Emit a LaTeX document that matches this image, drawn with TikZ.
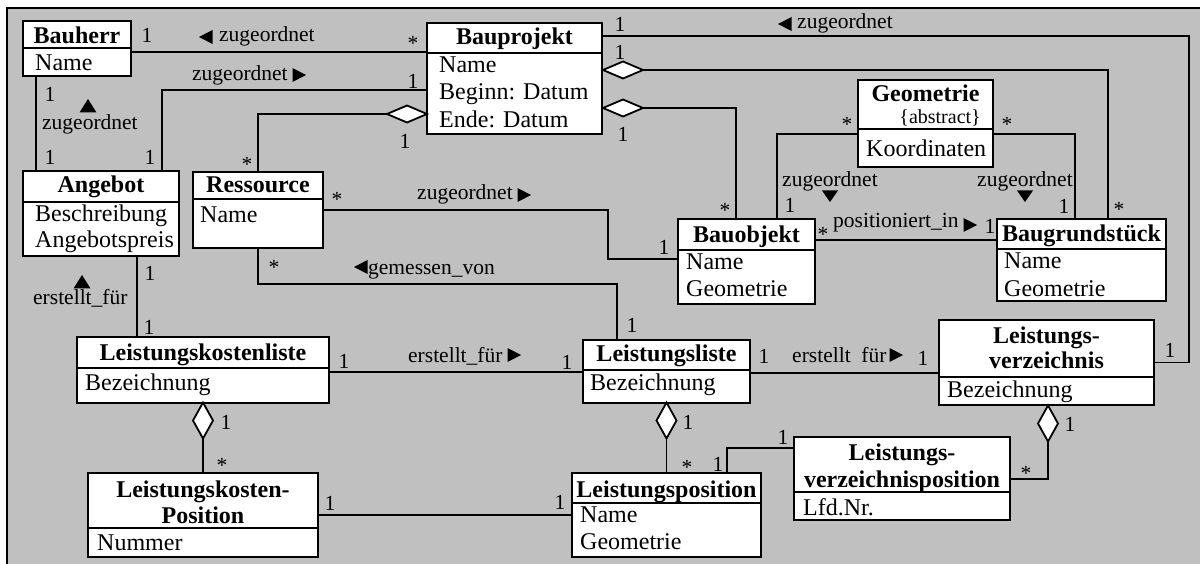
\documentclass[tikz,border=0pt]{standalone}
\usepackage{fontspec}
\setmainfont{Liberation Serif}
\definecolor{panel}{HTML}{C0C0C0}
% class box: name, x1, y1, x2, y2, y of the header divider
\newcommand\classbox[6]{%
  \node[box, minimum width={(#4)-(#2)}, minimum height={(#5)-(#3)}] (#1) at (#2,#3) {};
  \draw[line width=2.2pt] (#1.west |- 0,#6) -- (#1.east |- 0,#6);}
% aggregation diamonds (centre x, centre y)
\newcommand\hdiam[2]{\draw[agg] (#1-20,#2) -- (#1,#2-8.5) -- (#1+20,#2) -- (#1,#2+8.5) -- cycle;}
\newcommand\vdiam[2]{\draw[agg] (#1,#2-18) -- (#1+10,#2) -- (#1,#2+18) -- (#1-10,#2) -- cycle;}
% reading-direction triangles (centre x, centre y)
\newcommand\triR[2]{\fill (#1-6.5,#2-7) -- (#1+7,#2) -- (#1-6.5,#2+7) -- cycle;}
\newcommand\triL[2]{\fill (#1+6.5,#2-7) -- (#1-7,#2) -- (#1+6.5,#2+7) -- cycle;}
\newcommand\triU[2]{\fill (#1-8.5,#2+6.5) -- (#1,#2-7) -- (#1+8.5,#2+6.5) -- cycle;}
\newcommand\triD[2]{\fill (#1-8,#2-5.5) -- (#1,#2+6) -- (#1+8,#2-5.5) -- cycle;}
\begin{document}
\begin{tikzpicture}[x=1pt,y=-1pt,
  box/.style={draw, fill=white, line width=2.2pt, inner sep=0pt, outer sep=0pt, anchor=north west},
  conn/.style={line width=1.8pt},
  agg/.style={draw, fill=white, line width=1.8pt, line join=miter},
  ttl/.style={font=\fontsize{24}{28}\selectfont\bfseries, anchor=base, inner sep=0pt},
  attr/.style={font=\fontsize{24}{28}\selectfont, anchor=base west, inner sep=0pt},
  lbl/.style={font=\fontsize{21.5}{25}\selectfont, anchor=base west, inner sep=0pt},
  one/.style={font=\fontsize{21.5}{25}\selectfont, inner sep=0pt},
  many/.style={font=\fontsize{21.5}{25}\selectfont, inner sep=0pt, yshift=-3pt},
]
\useasboundingbox (0,0) rectangle (1200,564);
\fill[white] (0,0) rectangle (1200,564);
\fill[panel] (7,8) rectangle (1200,564);
\draw[line width=2.5pt] (7,564) -- (7,8) -- (1200,8);

% ---------- classes ----------
\classbox{bauherr}{23}{21}{131}{76}{48}
\classbox{bauprojekt}{427}{23}{602}{134}{53}
\classbox{angebot}{23}{171}{179}{256}{202}
\classbox{ressource}{193}{172}{323}{248}{199}
\classbox{geometrie}{858}{80}{993}{167}{129}
\classbox{bauobjekt}{678}{219}{815}{304}{250}
\classbox{baugrund}{997}{219}{1166}{301}{249}
\classbox{lv}{939}{320}{1154}{405}{377}
\classbox{lkl}{77}{337}{329}{403}{368}
\classbox{ll}{583}{340}{750}{403}{370}
\classbox{lkp}{88}{473}{318}{557}{528}
\classbox{lp}{572}{473}{761}{557}{503}
\classbox{lvp}{794}{437}{1010}{520}{492}

% ---------- class texts ----------
\node[ttl] (t1) at (77,44) {Bauherr};
\node[attr] (a1) at (35,71) {Name};
\node[ttl] (t2) at (514.5,45) {Bauprojekt};
\node[attr] (a2) at (439,73) {Name};
\node[attr] (a3) at (439,100) {Beginn: Datum};
\node[attr] (a4) at (439,128) {Ende: Datum};
\node[ttl] (t3) at (101,193) {Angebot};
\node[attr] (a5) at (35,222) {Beschreibung};
\node[attr] (a6) at (35,248) {Angebotspreis};
\node[ttl] (t4) at (258,193) {Ressource};
\node[attr] (a7) at (200,223) {Name};
\node[ttl] (t5) at (925.5,102) {Geometrie};
\node[font=\fontsize{20}{24}\selectfont, anchor=base east, inner sep=0pt] (t5b) at (981,124) {\{abstract\}};
\node[attr] (a8) at (866,157) {Koordinaten};
\node[ttl] (t6) at (746.5,243) {Bauobjekt};
\node[attr] (a9) at (686,270) {Name};
\node[attr] (a10) at (686,297) {Geometrie};
\node[ttl] (t7) at (1081.5,242) {Baugrundstück};
\node[attr] (a11) at (1004,269) {Name};
\node[attr] (a12) at (1004,297) {Geometrie};
\node[ttl] (t8) at (1046.5,343) {Leistungs-};
\node[ttl] (t8b) at (1046.5,368) {verzeichnis};
\node[attr] (a13) at (947,397) {Bezeichnung};
\node[ttl] (t9) at (203,360) {Leistungskostenliste};
\node[attr] (a14) at (85,390) {Bezeichnung};
\node[ttl] (t10) at (666.5,361) {Leistungsliste};
\node[attr] (a15) at (590,390) {Bezeichnung};
\node[ttl] (t11) at (203,497) {Leistungskosten-};
\node[ttl] (t11b) at (203,523) {Position};
\node[attr] (a16) at (97,550) {Nummer};
\node[ttl] (t12) at (666.5,497) {Leistungsposition};
\node[attr] (a17) at (580,522) {Name};
\node[attr] (a18) at (580,549) {Geometrie};
\node[ttl] (t13) at (902,460) {Leistungs-};
\node[ttl] (t13b) at (902,487) {verzeichnisposition};
\node[attr] (a19) at (803,515) {Lfd.Nr.};

% ---------- associations ----------
\draw[conn] (bauherr.east |- 0,52) -- (bauprojekt.west |- 0,52);
\draw[conn] (bauprojekt.west |- 0,90) -| (162,0 |- angebot.north);
\draw[conn] (36,0 |- bauherr.south) -- (36,0 |- angebot.north);
\draw[conn] (bauprojekt.west |- 0,114) -| (ressource.north);
\draw[conn] (bauprojekt.east |- 0,36) -| (1189,0 |- lv.east) -- (lv.east);
\draw[conn] (bauprojekt.east |- 0,70) -| (1108,0 |- baugrund.north);
\draw[conn] (bauprojekt.east |- 0,108) -| (736,0 |- bauobjekt.north);
\draw[conn] (geometrie.west |- 0,134) -| (777,0 |- bauobjekt.north);
\draw[conn] (geometrie.east |- 0,134) -| (1075,0 |- baugrund.north);
\draw[conn] (bauobjekt.east |- 0,240) -- (baugrund.west |- 0,240);
\draw[conn] (ressource.east |- 0,210) -| (608,259) -- (bauobjekt.west |- 0,259);
\draw[conn] (ressource.south) |- (617,284) -- (617,0 |- ll.north);
\draw[conn] (137,0 |- angebot.south) -- (137,0 |- lkl.north);
\draw[conn] (lkl.east |- 0,372) -- (ll.west |- 0,372);
\draw[conn] (ll.east |- 0,373) -- (lv.west |- 0,373);
\draw[conn] (lkl.south) -- (lkp.north);
\draw[conn] (ll.south) -- (lp.north);
\draw[conn] (lkp.east |- 0,515) -- (lp.west |- 0,515);
\draw[conn] (727,0 |- lp.north) |- (lvp.west |- 0,448);
\draw[conn] (1048,0 |- lv.south) |- (lvp.east |- 0,479);

% aggregation diamonds
\hdiam{407}{114}
\hdiam{623}{70}
\hdiam{623}{108}
\vdiam{203}{420.5}
\vdiam{666.5}{420.5}
\vdiam{1048}{423.5}

% ---------- multiplicities ----------
\node[one] (m1) at (147,35) {1};
\node[many] (m2) at (413,40) {*};
\node[one] (m3) at (413,81) {1};
\node[one] (m4) at (150,157) {1};
\node[one] (m5) at (50,94) {1};
\node[one] (m6) at (50,157) {1};
\node[one] (m7) at (405,141) {1};
\node[many] (m8) at (247,161) {*};
\node[one] (m9) at (620,24) {1};
\node[one] (m10) at (1170,350) {1};
\node[one] (m11) at (620,52) {1};
\node[many] (m12) at (1119,206) {*};
\node[one] (m13) at (623,134) {1};
\node[many] (m14) at (725,207) {*};
\node[many] (m15) at (847,121) {*};
\node[one] (m16) at (790,205) {1};
\node[many] (m17) at (1007,121) {*};
\node[one] (m18) at (1064,206) {1};
\node[many] (m19) at (823,231) {*};
\node[one] (m20) at (990,226) {1};
\node[many] (m21) at (337,196) {*};
\node[one] (m22) at (664,247) {1};
\node[many] (m23) at (274,264) {*};
\node[one] (m24) at (632,325) {1};
\node[one] (m25) at (150,273) {1};
\node[one] (m26) at (149,327) {1};
\node[one] (m27) at (344,361) {1};
\node[one] (m28) at (567,362) {1};
\node[one] (m29) at (764,356) {1};
\node[one] (m30) at (923,358) {1};
\node[one] (m31) at (226,422) {1};
\node[many] (m32) at (222,462) {*};
\node[one] (m33) at (688,422) {1};
\node[many] (m34) at (687,464) {*};
\node[one] (m35) at (330,503) {1};
\node[one] (m36) at (560,502) {1};
\node[one] (m37) at (718,464) {1};
\node[one] (m38) at (783,437) {1};
\node[one] (m39) at (1070,424) {1};
\node[many] (m40) at (1026,470) {*};

% ---------- association names ----------
\node[lbl] (n1) at (219,42) {zugeordnet};
\triL{206}{37}
\node[lbl] (n2) at (192,81) {zugeordnet};
\triR{299}{75}
\node[lbl] (n3) at (42,130) {zugeordnet};
\triU{88}{106}
\node[lbl] (n4) at (797,29) {zugeordnet};
\triL{785}{24}
\node[lbl] (n5) at (782,187) {zugeordnet};
\triD{830}{196}
\node[lbl] (n6) at (977,187) {zugeordnet};
\triD{1025}{196}
\node[lbl] (n7) at (833,228) {positioniert\_in};
\triR{970}{225}
\node[lbl] (n8) at (417,200) {zugeordnet};
\triR{524}{195}
\node[lbl] (n9) at (368,275) {gemessen\_von};
\triL{361}{267}
\node[lbl] (n10) at (33,305) {erstellt\_für};
\triU{82}{282}
\node[lbl] (n11) at (408,362) {erstellt\_für};
\triR{514}{355}
\node[lbl] (n12) at (792,362) {erstellt\hphantom{\_}für};
\triR{896}{355}
\end{tikzpicture}
\end{document}
